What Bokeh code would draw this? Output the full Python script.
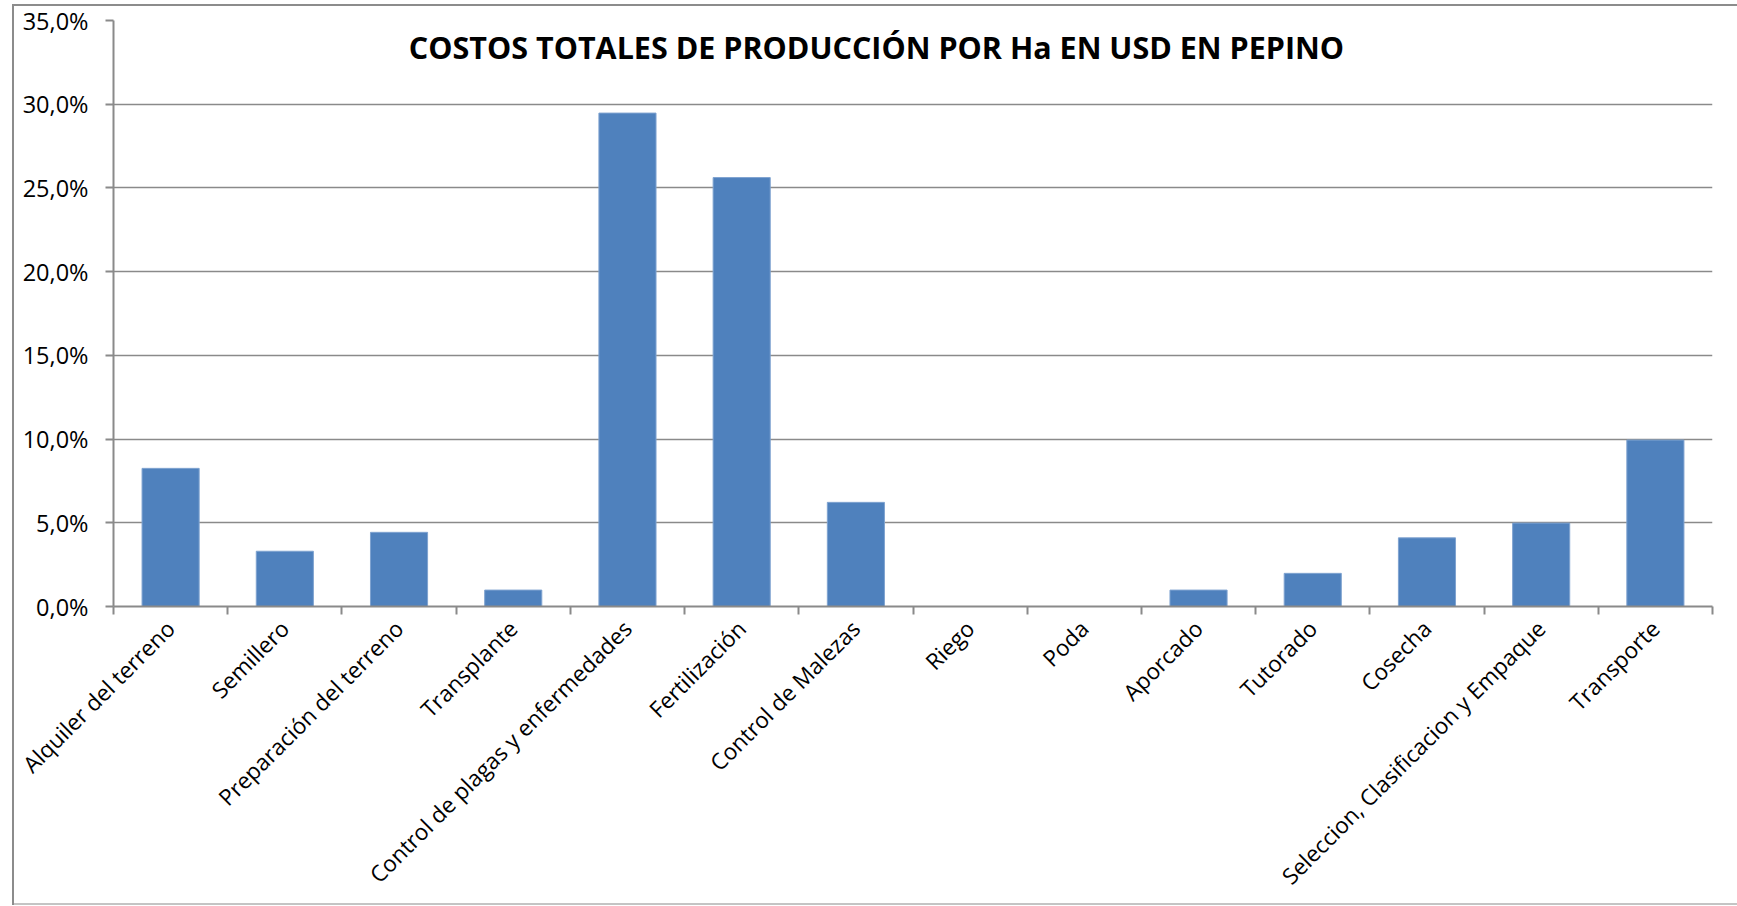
from bokeh.plotting import figure
from bokeh.models import (Range1d, FixedTicker, CustomJSTickFormatter, Label,
                          ColumnDataSource)
from bokeh.embed import file_html
from bokeh.resources import INLINE
import math

# ---------------- data ----------------
categories = ["Alquiler del terreno", "Semillero", "Preparación del terreno",
              "Transplante", "Control de plagas y enfermedades", "Fertilización",
              "Control de Malezas", "Riego", "Poda", "Aporcado", "Tutorado",
              "Cosecha", "Seleccion, Clasificacion y Empaque", "Transporte"]
values = [8.25, 3.3, 4.43, 0.98, 29.47, 25.62, 6.22, 0.0, 0.0, 0.98, 1.98,
          4.1, 4.98, 9.94]
y_ticks = [0, 5, 10, 15, 20, 25, 30, 35]
y_tick_labels = ["0,0%", "5,0%", "10,0%", "15,0%", "20,0%", "25,0%", "30,0%", "35,0%"]
title_text = "COSTOS TOTALES DE PRODUCCIÓN POR Ha EN USD EN PEPINO"

# ---------------- styling ----------------
FONT = "Open Sans"
GRID = "#8a8a8a"
BAR = "#4F81BD"

n = len(categories)
positions = [i + 0.5 for i in range(n)]
src = ColumnDataSource(dict(x=positions, top=values, cat=categories))

W, H = 1737, 906
p = figure(width=W, height=H, output_backend="svg", toolbar_location=None,
           x_range=Range1d(0, n), y_range=Range1d(0, 35),
           min_border_left=113, min_border_right=25,
           min_border_top=20, min_border_bottom=300)
p.outline_line_color = None
p.background_fill_color = "white"
p.border_fill_color = None
# outer chart-area border drawn behind the (transparent) canvas border area
p.styles = {
    "background-color": "white",
    "background-image": ("linear-gradient(#8c8c8c,#8c8c8c), "
                         "linear-gradient(#8c8c8c,#8c8c8c), "
                         "linear-gradient(#c4c4c4,#c4c4c4)"),
    "background-size": "2px 901px, 1730px 2px, 1730px 2px",
    "background-position": "12px 4px, 12px 4px, 12px 903px",
    "background-repeat": "no-repeat",
}

p.vbar(x="x", top="top", width=0.5, source=src, fill_color=BAR,
       line_color="#7fa3d0", line_width=1)

# y axis
p.yaxis.ticker = FixedTicker(ticks=y_ticks, minor_ticks=[])
p.yaxis.major_label_overrides = {t: l for t, l in zip(y_ticks, y_tick_labels)}
p.yaxis.axis_line_color = GRID
p.yaxis.axis_line_width = 2
p.yaxis.major_tick_line_color = GRID
p.yaxis.major_tick_line_width = 2
p.yaxis.major_tick_out = 8
p.yaxis.major_tick_in = 0
p.yaxis.minor_tick_line_color = None
p.yaxis.major_label_text_font = FONT
p.yaxis.major_label_text_font_size = "23.5px"
p.yaxis.major_label_text_color = "black"
p.yaxis.major_label_standoff = 17

# x axis: labels at centers, ticks at boundaries (as minor ticks)
p.xaxis.ticker = FixedTicker(ticks=positions, minor_ticks=list(range(n + 1)))
p.xaxis.formatter = CustomJSTickFormatter(args=dict(cats=categories),
                                          code="return cats[Math.round(tick - 0.5)];")
p.xaxis.major_label_orientation = math.pi / 4
p.xaxis.axis_line_color = GRID
p.xaxis.axis_line_width = 2
p.xaxis.major_tick_line_color = None
p.xaxis.minor_tick_line_color = GRID
p.xaxis.minor_tick_line_width = 2
p.xaxis.minor_tick_out = 8
p.xaxis.minor_tick_in = 0
p.xaxis.major_label_text_font = FONT
p.xaxis.major_label_text_font_size = "22.5px"
p.xaxis.major_label_text_color = "black"
p.xaxis.major_label_standoff = 10

# grid
p.xgrid.visible = False
p.ygrid.ticker = FixedTicker(ticks=y_ticks)
p.ygrid.grid_line_color = GRID
p.ygrid.grid_line_width = 1.5

# title inside plot area
p.add_layout(Label(x=6.68, y=33.4, text=title_text, text_font=FONT,
                   text_font_style="bold", text_font_size="30.5px",
                   text_align="center", text_baseline="alphabetic",
                   text_color="black"))

open("out.html", "w").write(file_html(p, INLINE))
